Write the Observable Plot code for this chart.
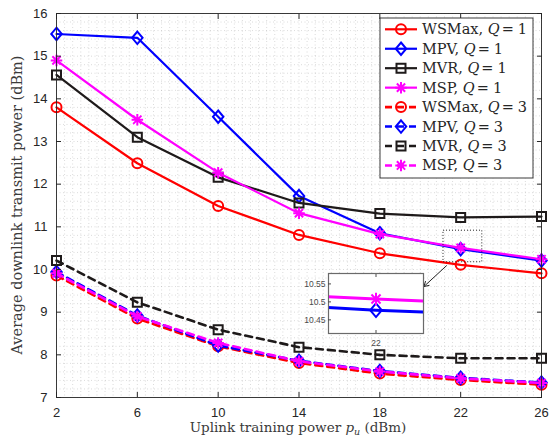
<!DOCTYPE html>
<html><head><meta charset="utf-8">
<script src="https://cdn.jsdelivr.net/npm/d3@7"></script>
<script src="https://cdn.jsdelivr.net/npm/@observablehq/plot@0.6"></script>
<style>
body{margin:0;background:#fff;}
#wrap{position:relative;width:551px;height:439px;overflow:hidden;}
#wrap svg{position:absolute;}
</style></head><body><div id="wrap"></div>
<script>
// ---- data ----
const xValues = [2, 6, 10, 14, 18, 22, 26];
const xTicks = [2, 6, 10, 14, 18, 22, 26];
const yTicks = [7, 8, 9, 10, 11, 12, 13, 14, 15, 16];
const wsmaxQ1 = [13.8, 12.49, 11.49, 10.81, 10.38, 10.11, 9.91];
const mpvQ1   = [15.52, 15.43, 13.58, 11.72, 10.85, 10.477, 10.21];
const mvrQ1   = [14.56, 13.1, 12.16, 11.56, 11.31, 11.22, 11.24];
const mspQ1   = [14.9, 13.51, 12.27, 11.32, 10.83, 10.508, 10.24];
const wsmaxQ3 = [9.86, 8.85, 8.2, 7.81, 7.56, 7.41, 7.3];
const mpvQ3   = [9.94, 8.92, 8.22, 7.86, 7.62, 7.46, 7.35];
const mvrQ3   = [10.21, 9.23, 8.59, 8.18, 8.0, 7.92, 7.92];
const mspQ3   = [9.91, 8.9, 8.28, 7.85, 7.61, 7.45, 7.34];
const insetXTicks = [22];
const insetYTicks = [10.45, 10.5, 10.55];
const insetXDomain = [21.92, 22.08];
const insetYDomain = [10.412, 10.579];
const zoomBox = [21.15, 23.07, 10.17, 10.91];
const zoomArrow = [21.3, 10.09, 20.18, 9.6];

// ---- symbols ----
const symDiamond = {draw(c, size){const r=Math.sqrt(size/Math.PI);const h=1.25*r,w=1.05*r;c.moveTo(0,-h);c.lineTo(w,0);c.lineTo(0,h);c.lineTo(-w,0);c.closePath();}};
const symSquare = {draw(c, size){const r=Math.sqrt(size/Math.PI)*0.9;c.moveTo(-r,-r);c.lineTo(r,-r);c.lineTo(r,r);c.lineTo(-r,r);c.closePath();}};
const symStar = {draw(c, size){const r=Math.sqrt(size/Math.PI)*1.15;const d=r*0.72;c.moveTo(-r,0);c.lineTo(r,0);c.moveTo(0,-r);c.lineTo(0,r);c.moveTo(-d,-d);c.lineTo(d,d);c.moveTo(-d,d);c.lineTo(d,-d);}};

const RED="#ff0000", BLUE="#0000ff", BLACK="#1e1a1a", MAG="#ff00ff";
const series = [
  {name:"WSMax", q:1, values:wsmaxQ1, color:RED, symbol:d3.symbolCircle},
  {name:"MPV", q:1, values:mpvQ1, color:BLUE, symbol:symDiamond},
  {name:"MVR", q:1, values:mvrQ1, color:BLACK, symbol:symSquare},
  {name:"MSP", q:1, values:mspQ1, color:MAG, symbol:symStar},
  {name:"WSMax", q:3, values:wsmaxQ3, color:RED, symbol:d3.symbolCircle},
  {name:"MPV", q:3, values:mpvQ3, color:BLUE, symbol:symDiamond},
  {name:"MVR", q:3, values:mvrQ3, color:BLACK, symbol:symSquare},
  {name:"MSP", q:3, values:mspQ3, color:MAG, symbol:symStar}
];
const DASH = "7,5";
function rowsOf(s){ return xValues.map((x,i)=>({x, y:s.values[i]})); }
function seriesMarks(s, r, lw, clip){
  const rows = rowsOf(s);
  return [
    Plot.line(rows, {x:"x", y:"y", stroke:s.color, strokeWidth:lw, strokeDasharray: s.q===3 ? DASH : null, clip}),
    Plot.dot(rows, {x:"x", y:"y", symbol:s.symbol, r, stroke:s.color, strokeWidth:2, fill:"none", clip})
  ];
}

const SANS = "'Liberation Sans', Arial, Helvetica, sans-serif";
const SERIF = "'DejaVu Serif', serif";
const xMinor = d3.range(2, 26.001, 0.4);
const yMinor = d3.range(7, 16.001, 0.2);

const main = Plot.plot({
  width: 551, height: 439,
  marginLeft: 56, marginRight: 10, marginTop: 13, marginBottom: 42,
  style: {fontFamily: SANS, fontSize: "13px", color: "#262626", background: "white", overflow: "visible"},
  x: {domain: [2, 26], label: null},
  y: {domain: [7, 16], label: null},
  marks: [
    Plot.gridX(xMinor, {stroke: "#a0a0a0", strokeOpacity: 0.55, strokeDasharray: "1,2.5", strokeWidth: 0.7}),
    Plot.gridY(yMinor, {stroke: "#a0a0a0", strokeOpacity: 0.55, strokeDasharray: "1,2.5", strokeWidth: 0.7}),
    ...series.flatMap(s => seriesMarks(s, 5, s.q===3 ? 2.6 : 2.2, false)),
    Plot.rect([zoomBox], {x1: d=>d[0], x2: d=>d[1], y1: d=>d[2], y2: d=>d[3], fill: "none", stroke: "#222", strokeWidth: 1, strokeDasharray: "1,2"}),
    Plot.arrow([zoomArrow], {x1: d=>d[0], y1: d=>d[1], x2: d=>d[2], y2: d=>d[3], stroke: "#222", strokeWidth: 1, headLength: 8, bend: 0}),
    Plot.frame({stroke: "#262626", strokeWidth: 0.9}),
    Plot.axisX(xTicks, {anchor: "bottom", tickSize: -5, tickPadding: 15, label: null, tickFormat: d => String(d)}),
    Plot.axisX(xTicks, {anchor: "top", tickSize: -5, tickFormat: () => "", label: null}),
    Plot.axisY(yTicks, {anchor: "left", tickSize: -5, tickPadding: 14, label: null, tickFormat: d => String(d)}),
    Plot.axisY(yTicks, {anchor: "right", tickSize: -5, tickFormat: () => "", label: null})
  ]
});
main.style.left = "0px"; main.style.top = "0px";
document.getElementById("wrap").appendChild(main);

// axis titles
const svg = d3.select(main);
svg.append("text").attr("transform", "translate(22,205) rotate(-90)")
  .attr("text-anchor", "middle").attr("font-family", SERIF).attr("font-size", 14.5).attr("fill", "#3a3a3a")
  .text("Average downlink transmit power (dBm)");
const xl = svg.append("text").attr("x", 298).attr("y", 432).attr("text-anchor", "middle")
  .attr("font-family", SERIF).attr("font-size", 13.5).attr("fill", "#3a3a3a");
xl.append("tspan").text("Uplink training power ");
xl.append("tspan").attr("font-style", "italic").text("p");
xl.append("tspan").attr("font-style", "italic").attr("font-size", 9.5).attr("dy", 3).text("u");
xl.append("tspan").attr("dy", -3).text(" (dBm)");

// legend
const lg = svg.append("g");
lg.append("rect").attr("x", 380).attr("y", 18).attr("width", 153).attr("height", 160)
  .attr("fill", "white").attr("stroke", "#262626").attr("stroke-width", 0.9);
series.forEach((s, i) => {
  const y = 29.3 + i * 19.45;
  lg.append("line").attr("x1", 385).attr("x2", 417).attr("y1", y).attr("y2", y)
    .attr("stroke", s.color).attr("stroke-width", s.q===3 ? 2.6 : 2.2)
    .attr("stroke-dasharray", s.q===3 ? DASH : null);
  lg.append("path").attr("transform", `translate(401,${y})`).attr("d", d3.symbol(s.symbol, Math.PI*25)())
    .attr("fill", "none").attr("stroke", s.color).attr("stroke-width", 2);
  const t = lg.append("text").attr("x", 422).attr("y", y + 5).attr("font-family", SERIF)
    .attr("text-anchor", "start").attr("font-size", 14.5).attr("fill", "#262626");
  t.append("tspan").text(s.name + ", ");
  t.append("tspan").attr("font-style", "italic").text("Q");
  t.append("tspan").attr("dx", 2).text("=");
  t.append("tspan").attr("dx", 4).text(String(s.q));
});

// inset
const insetSeries = [series[1], series[3]];
const inset = Plot.plot({
  width: 95 + 40 + 4, height: 60 + 3 + 18,
  marginLeft: 40, marginRight: 4, marginTop: 3, marginBottom: 18,
  style: {fontFamily: SANS, fontSize: "8.5px", color: "#4a4a4a", background: "transparent", overflow: "visible"},
  x: {domain: insetXDomain, label: null},
  y: {domain: insetYDomain, label: null},
  marks: [
    Plot.frame({fill: "white", stroke: "none"}),
    ...insetSeries.flatMap(s => seriesMarks(s, 5.5, 3, true)),
    Plot.frame({stroke: "#6a6a6a", strokeWidth: 1.2}),
    Plot.axisX(insetXTicks, {anchor: "bottom", tickSize: -3, tickPadding: 9, label: null, tickFormat: d => String(d)}),
    Plot.axisX(insetXTicks, {anchor: "top", tickSize: -3, tickFormat: () => "", label: null}),
    Plot.axisY(insetYTicks, {anchor: "left", tickSize: -3, tickPadding: 6, label: null, tickFormat: d => String(d)})
  ]
});
inset.style.left = (328 - 40) + "px"; inset.style.top = (273 - 3) + "px";
document.getElementById("wrap").appendChild(inset);
</script></body></html>
